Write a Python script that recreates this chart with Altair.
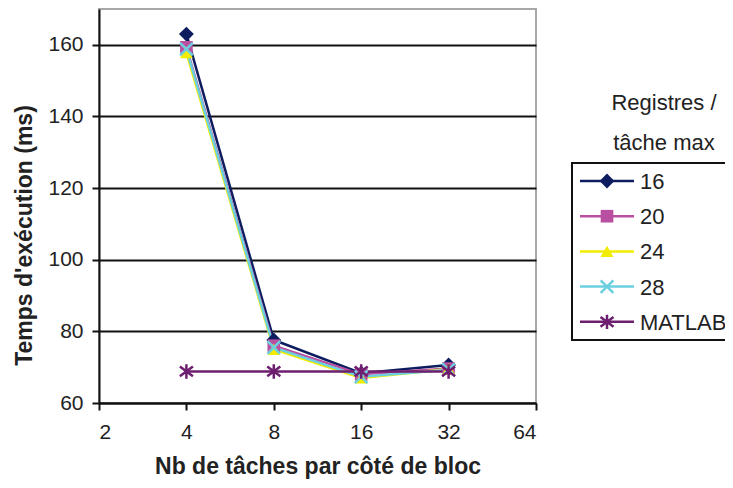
import altair as alt
import pandas as pd

# ---- data ----
x_vals = [4, 8, 16, 32]
series_names = ["16", "20", "24", "28", "MATLAB"]
s16 = [163.0, 77.6, 68.3, 70.6]
s20 = [159.3, 76.0, 68.0, 69.6]
s24 = [157.8, 75.0, 67.0, 69.5]
s28 = [158.8, 75.5, 67.3, 69.3]
s_matlab = [68.8, 68.8, 68.8, 68.8]
y_ticks = [60, 80, 100, 120, 140, 160]
x_ticks = [2, 4, 8, 16, 32, 64]
legend_title = ["Registres /", "tâche max"]
x_title = "Nb de tâches par côté de bloc"
y_title = "Temps d'exécution (ms)"

# ---- styles ----
colors = ["#0c1c5e", "#b94fa0", "#f2ec00", "#6ccfe0", "#6e1e6e"]
X_PATH = "M-1,-1L1,1M-1,1L1,-1"
STAR_PATH = "M0,-1.1L0,1.1M-1,-0.75L1,0.75M-1,0.75L1,-0.75"
shapes = ["diamond", "square", "triangle-up", X_PATH, STAR_PATH]
filled = [True, True, True, False, False]
sizes = [220, 160, 170, 160, 170]
FONT = "Liberation Sans"
TXT = "#222222"

values = [s16, s20, s24, s28, s_matlab]
rows = []
for name, vals in zip(series_names, values):
    for xv, yv in zip(x_vals, vals):
        rows.append({"series": name, "x": xv, "y": yv})
df = pd.DataFrame(rows)

x_scale = alt.Scale(type="log", base=2, domain=[2, 64], nice=False)
y_scale = alt.Scale(domain=[60, 170], nice=False, zero=False)

x_axis = alt.Axis(
    values=x_ticks, format="d", grid=False, title=x_title,
    labelFontSize=21, labelColor=TXT, labelFont=FONT, labelPadding=11,
    tickSize=7, tickWidth=2, tickColor="#111111",
    domainColor="#111111", domainWidth=2,
    titleFont=FONT, titleFontSize=23, titleFontWeight="bold", titleColor=TXT,
    titleY=63, titleBaseline="middle",
)
y_axis = alt.Axis(
    values=y_ticks, grid=True, gridColor="#111111", gridWidth=2, title=y_title,
    labelFontSize=21, labelColor=TXT, labelFont=FONT, labelPadding=9,
    tickSize=7, tickWidth=2, tickColor="#111111",
    domainColor="#111111", domainWidth=2,
    titleFont=FONT, titleFontSize=23, titleFontWeight="bold", titleColor=TXT,
    titleX=-75, titleY=226, titleBaseline="middle", titleAngle=-90,
)

x_enc = alt.X("x:Q", scale=x_scale, axis=x_axis)
y_enc = alt.Y("y:Q", scale=y_scale, axis=y_axis)

layers = []
for i, name in enumerate(series_names):
    sub = df[df["series"] == name]
    layers.append(
        alt.Chart(sub).mark_line(color=colors[i], strokeWidth=2.5).encode(x=x_enc, y=y_enc)
    )
for i, name in enumerate(series_names):
    sub = df[df["series"] == name]
    if filled[i]:
        pm = alt.Chart(sub).mark_point(shape=shapes[i], filled=True, fill=colors[i],
                                       size=sizes[i], opacity=1, strokeWidth=0)
    else:
        pm = alt.Chart(sub).mark_point(shape=shapes[i], filled=False, stroke=colors[i],
                                       size=sizes[i], opacity=1, strokeWidth=2.5)
    layers.append(pm.encode(x=x_enc, y=y_enc))

# ---- manual legend (Excel style) ----
one = pd.DataFrame({"k": [0]})
LX0, LX1, LY0, LY1 = 473, 720, 154, 331
layers.append(
    alt.Chart(one).mark_rect(fill="white", stroke="#111111", strokeWidth=2).encode(
        x=alt.value(LX0), x2=alt.value(LX1), y=alt.value(LY0), y2=alt.value(LY1))
)
for j, t in enumerate(legend_title):
    layers.append(
        alt.Chart(one).mark_text(font=FONT, fontSize=22, color=TXT, align="center",
                                 baseline="middle").encode(
            x=alt.value(565), y=alt.value(94 + 40 * j), text=alt.value(t))
    )
for i, name in enumerate(series_names):
    yy = 172 + 35.2 * i
    layers.append(
        alt.Chart(one).mark_rule(color=colors[i], strokeWidth=2.5).encode(
            x=alt.value(481), x2=alt.value(535), y=alt.value(yy))
    )
    if filled[i]:
        pm = alt.Chart(one).mark_point(shape=shapes[i], filled=True, fill=colors[i],
                                       size=sizes[i], opacity=1, strokeWidth=0)
    else:
        pm = alt.Chart(one).mark_point(shape=shapes[i], filled=False, stroke=colors[i],
                                       size=sizes[i], opacity=1, strokeWidth=2.5)
    layers.append(pm.encode(x=alt.value(508), y=alt.value(yy)))
    layers.append(
        alt.Chart(one).mark_text(font=FONT, fontSize=22, color=TXT, align="left",
                                 baseline="middle").encode(
            x=alt.value(541), y=alt.value(yy + 1), text=alt.value(name))
    )

chart = alt.layer(*layers).properties(
    width=437, height=394,
    autosize=alt.AutoSizeParams(type="none"),
    padding={"left": 91, "top": 1, "right": 189, "bottom": 77},
    background="white",
).configure_view(stroke="#a8a8a8", strokeWidth=2)

chart.save("out.html", embed_options={"renderer": "svg", "actions": False})
